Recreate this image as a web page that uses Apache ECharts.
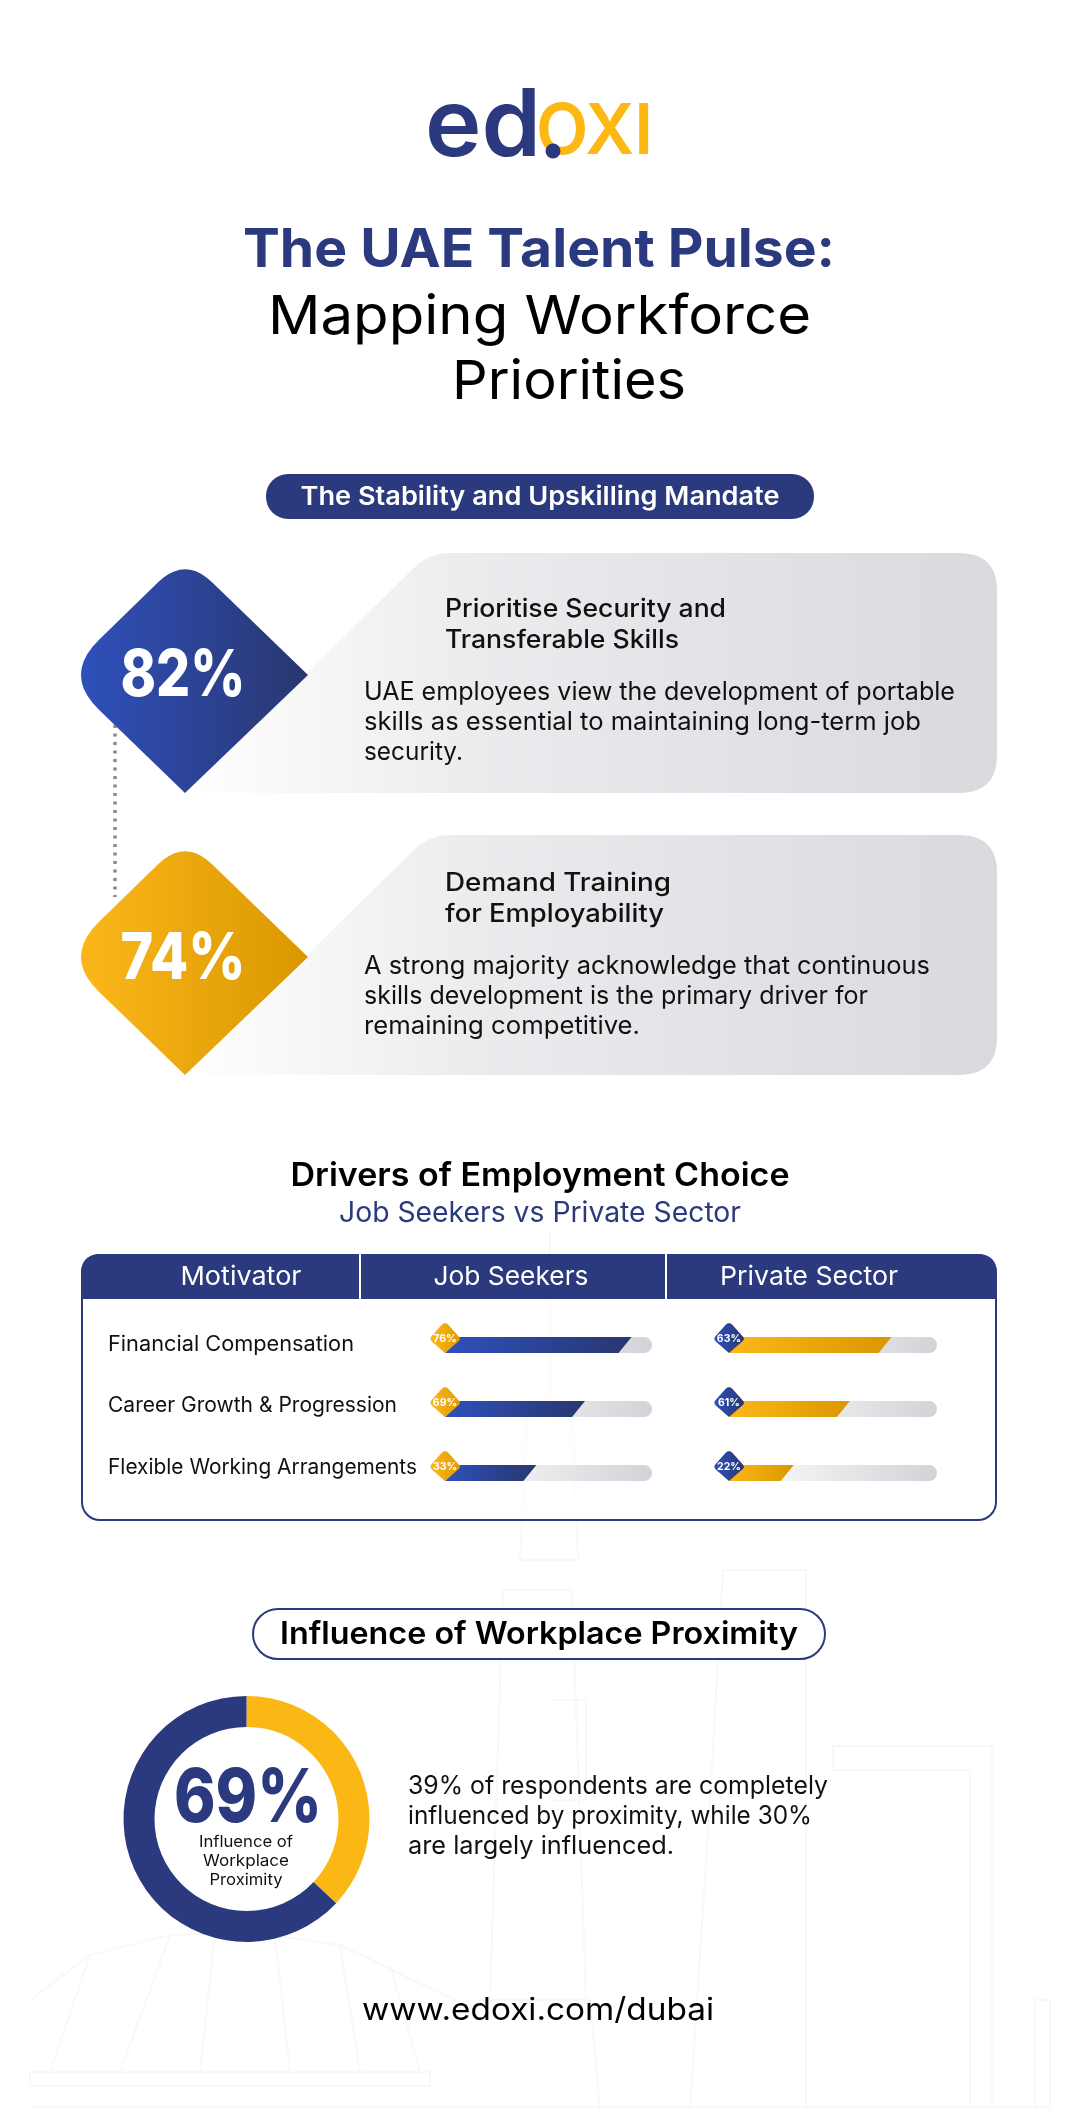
<!DOCTYPE html>
<html>
<head>
<meta charset="utf-8">
<title>The UAE Talent Pulse</title>
<script src="https://cdn.jsdelivr.net/npm/echarts@6/dist/echarts.min.js"></script>
<style>
    html, body { margin: 0; padding: 0; background: #fff; }
    #chart { width: 1080px; height: 2110px; }
</style>
</head>
<body>
<div id="chart"></div>
<script>
'use strict';
var statValues = ['82%', '74%'];
var statTitles = [['Prioritise Security and', 'Transferable Skills'], ['Demand Training', 'for Employability']];
var statBodies = [
    ['UAE employees view the development of portable', 'skills as essential to maintaining long-term job', 'security.'],
    ['A strong majority acknowledge that continuous', 'skills development is the primary driver for', 'remaining competitive.']
];

var motivators = ['Financial Compensation', 'Career Growth & Progression', 'Flexible Working Arrangements'];
var tableHeaders = ['Motivator', 'Job Seekers', 'Private Sector'];
// printed percentages
var jobSeekerLabels = ['76%', '69%', '33%'];
var privateLabels = ['63%', '61%', '22%'];
// the drawn bars in the picture do not follow the printed numbers, so the lengths are read off separately
var jobSeekerLengths = [87, 64.5, 41];
var privateLengths = [75, 55, 28];

// share of the ring as drawn, yellow then navy
var ringShares = [37, 63];
var ringCentre = '69%';
var ringCaption = ['Influence of', 'Workplace', 'Proximity'];
var ringText = ['39% of respondents are completely', 'influenced by proximity, while 30%', 'are largely influenced.'];

var NAVY = '#2b3a7e';
var YELLOW = '#fbb714';
var FONT = 'Inter';

var measureCtx = document.createElement('canvas').getContext('2d');

// text element, squeezed to the width measured in the picture when w is given
function label(text, x, y, size, weight, fill, align, w) {
    var font = weight + ' ' + size + 'px ' + FONT;
    var sx = 1;
    if (w) {
        measureCtx.font = font;
        sx = w / measureCtx.measureText(text).width;
    }
    return {
        type: 'text', x: x, y: y, scaleX: sx, silent: true,
        style: { text: text, font: font, fill: fill, align: align || 'center', verticalAlign: 'middle' }
    };
}

// points are [x, y, radius]; corners are sampled so the result fits a plain polygon
function roundPoly(pts) {
    var out = [];
    for (var i = 0; i < pts.length; i++) {
        var p = pts[i], a = pts[(i + pts.length - 1) % pts.length], b = pts[(i + 1) % pts.length];
        var r = p[2] || 0;
        if (!r) { out.push([p[0], p[1]]); continue; }
        var la = Math.hypot(a[0] - p[0], a[1] - p[1]), lb = Math.hypot(b[0] - p[0], b[1] - p[1]);
        var ax = p[0] + (a[0] - p[0]) / la * r, ay = p[1] + (a[1] - p[1]) / la * r;
        var bx = p[0] + (b[0] - p[0]) / lb * r, by = p[1] + (b[1] - p[1]) / lb * r;
        for (var t = 0; t <= 1.001; t += 0.1) {
            out.push([
                (1 - t) * (1 - t) * ax + 2 * t * (1 - t) * p[0] + t * t * bx,
                (1 - t) * (1 - t) * ay + 2 * t * (1 - t) * p[1] + t * t * by
            ]);
        }
    }
    return out;
}

function hGrad(from, to) {
    return { type: 'linear', x: 0, y: 0, x2: 1, y2: 0, colorStops: [{ offset: 0, color: from }, { offset: 1, color: to }] };
}

function poly(points, fill) {
    return { type: 'polygon', silent: true, shape: { points: points }, style: { fill: fill } };
}

function faint(points) {
    return { type: 'polyline', silent: true, shape: { points: points }, style: { fill: null, stroke: '#f8f8fa', lineWidth: 2 } };
}

var elements = [];

// faint skyline behind everything
[
    [[550, 1230], [550, 1400]],
    [[528, 1400], [572, 1400], [578, 1560], [520, 1560], [528, 1400]],
    [[503, 1590], [572, 1590], [586, 2000], [490, 2000], [503, 1590]],
    [[552, 1700], [586, 1700], [586, 1800], [552, 1800]],
    [[478, 2000], [590, 2000], [600, 2110]],
    [[723, 1570], [806, 1570], [806, 2110]],
    [[723, 1570], [710, 1800], [690, 2110]],
    [[833, 1746], [992, 1746], [992, 2107]],
    [[833, 1746], [833, 1770], [970, 1770], [970, 2107]],
    [[30, 2000], [90, 1955], [170, 1935], [250, 1932], [340, 1945], [455, 2000]],
    [[50, 2072], [90, 1955]], [[120, 2072], [170, 1935]], [[200, 2072], [215, 1933]],
    [[290, 2072], [275, 1935]], [[360, 2072], [340, 1945]], [[420, 2072], [390, 1965]],
    [[30, 2072], [430, 2072], [430, 2086], [30, 2086], [30, 2072]],
    [[30, 2107], [1050, 2107]],
    [[1035, 2110], [1035, 2000], [1050, 2000], [1050, 2110]]
].forEach(function (pts) { elements.push(faint(pts)); });

// logo
elements.push(label('OXI', 536, 133, 70, 600, '#fdb813', 'left', 117));
elements.push(label('ed', 425, 128, 94, 600, NAVY, 'left', 116));
elements.push({ type: 'circle', silent: true, shape: { cx: 553, cy: 151, r: 7.5 }, style: { fill: NAVY } });

// heading
elements.push(label('The UAE Talent Pulse:', 539, 251, 54, 700, NAVY, 'center', 592));
elements.push(label('Mapping Workforce', 539.5, 318, 54, 400, '#000', 'center', 543));
elements.push(label('Priorities', 569, 383, 54, 400, '#000', 'center', 234));

// first section pill
elements.push({ type: 'rect', silent: true, shape: { x: 266, y: 474, width: 548, height: 45, r: 22 }, style: { fill: NAVY } });
elements.push(label('The Stability and Upskilling Mandate', 540, 497, 26, 600, '#fff', 'center', 479));

// dotted connector between the two diamonds
elements.push({
    type: 'line', silent: true, shape: { x1: 115, y1: 725, x2: 115, y2: 897 },
    style: { stroke: '#8b8b8f', lineWidth: 3.5, lineDash: [3, 5.5] }
});

var diamondFills = [hGrad('#2f50bc', '#29376f'), hGrad('#fbb71a', '#da9700')];
var cardFill = {
    type: 'linear', x: 0, y: 0, x2: 1, y2: 0,
    colorStops: [{ offset: 0, color: '#ffffff' }, { offset: 0.35, color: '#ececef' }, { offset: 1, color: '#d9d9de' }]
};
statValues.forEach(function (val, i) {
    var dy = i * 282;
    var textDy = i * 274;
    // grey card running off the diamond's right edge
    elements.push(poly(roundPoly([
        [185, 793 + dy], [429, 553 + dy, 22], [997, 553 + dy, 38], [997, 793 + dy, 38]
    ]), cardFill));
    elements.push(poly(roundPoly([
        [185, 556 + dy, 38], [308, 675 + dy], [185, 793 + dy], [63, 675 + dy, 50]
    ]), diamondFills[i]));
    elements.push(label(val, 183, 677 + dy + i, 64, 800, '#fff', 'center', 125));
    statTitles[i].forEach(function (line, k) {
        elements.push(label(line, 445, 609 + textDy + k * 31, 25, 500, '#111', 'left', i === 0 ? (k === 0 ? 281 : 234) : (k === 0 ? 226 : 219)));
    });
    statBodies[i].forEach(function (line, k) {
        var widths = [[591, 557, 99], [566, 504, 276]];
        elements.push(label(line, 364, 692 + textDy + k * 30, 25, 400, '#111', 'left', widths[i][k]));
    });
});

// drivers table
elements.push(label('Drivers of Employment Choice', 540, 1176, 33, 600, '#000', 'center', 499));
elements.push(label('Job Seekers vs Private Sector', 540, 1214, 28, 400, NAVY, 'center', 402));
elements.push({
    type: 'rect', silent: true, shape: { x: 82, y: 1255, width: 914, height: 265, r: 18 },
    style: { fill: 'rgba(255,255,255,0.6)', stroke: NAVY, lineWidth: 2 }
});
elements.push(poly(roundPoly([[81, 1299], [81, 1254, 20], [997, 1254, 20], [997, 1299]]), NAVY));
[360, 666].forEach(function (x) {
    elements.push({ type: 'line', silent: true, shape: { x1: x, y1: 1254, x2: x, y2: 1299 }, style: { stroke: '#fff', lineWidth: 2 } });
});
[241, 511, 809].forEach(function (x, i) {
    elements.push(label(tableHeaders[i], x, 1277, 26, 400, '#fff', 'center', [121, 155, 178][i]));
});
[1345, 1406, 1468].forEach(function (y, i) {
    elements.push(label(motivators[i], 108, y, 21, 400, '#111', 'left', [246, 289, 309][i]));
});

// proximity section
elements.push({
    type: 'rect', silent: true, shape: { x: 253, y: 1609, width: 572, height: 50, r: 25 },
    style: { fill: '#fff', stroke: NAVY, lineWidth: 2 }
});
elements.push(label('Influence of Workplace Proximity', 539, 1635, 31, 600, '#000', 'center', 518));
elements.push(label(ringCentre, 248, 1800, 74, 800, NAVY, 'center', 148));
ringCaption.forEach(function (line, k) {
    elements.push(label(line, 246, 1842 + k * 19, 16, 400, '#111', 'center', [94, 86, 73][k]));
});
ringText.forEach(function (line, k) {
    elements.push(label(line, 408, 1786 + k * 30, 25, 400, '#111', 'left', [420, 404, 266][k]));
});
elements.push(label('www.edoxi.com/dubai', 538, 2011, 31, 400, '#000', 'center', 352));

// one track + slanted fill + corner diamond per row, positioned by the axes
function progressRow(barFill, badgeFill) {
    return function (params, api) {
        var row = api.value(1);
        var start = api.coord([0, row]);
        var end = api.coord([api.value(0), row]);
        var full = api.coord([100, row]);
        var x0 = start[0], cy = start[1], xe = end[0];
        var h = 8;
        return {
            type: 'group',
            children: [
                { type: 'rect', shape: { x: x0, y: cy - h, width: full[0] - x0, height: h * 2, r: h }, style: { fill: hGrad('#ffffff', '#d2d3d8') } },
                { type: 'polygon', shape: { points: [[x0, cy + h], [x0 + 14, cy - h], [xe + 6.5, cy - h], [xe - 6.5, cy + h]] }, style: { fill: barFill } },
                { type: 'polygon', shape: { points: roundPoly([[x0, cy - 24, 6], [x0 + 16, cy - 6, 3], [x0, cy + h], [x0 - 16, cy - 6, 4]]) }, style: { fill: badgeFill } },
                {
                    type: 'text', x: x0, y: cy - 6,
                    style: { text: api.value(2), font: '700 10.5px ' + FONT, fill: '#fff', align: 'center', verticalAlign: 'middle' }
                }
            ]
        };
    };
}

function rowData(lengths, labels) {
    return lengths.map(function (len, i) { return [len, i, labels[i]]; });
}

function hiddenX(gridIndex) {
    return { type: 'value', gridIndex: gridIndex, min: 0, max: 100, show: false };
}

function hiddenY(gridIndex) {
    return { type: 'category', gridIndex: gridIndex, inverse: true, data: motivators, show: false };
}

var chart = echarts.init(document.getElementById('chart'));
chart.setOption({
    animation: false,
    backgroundColor: '#fff',
    graphic: { elements: elements },
    grid: [
        { left: 445, width: 207, top: 1313, height: 192 },
        { left: 729, width: 208, top: 1313, height: 192 }
    ],
    xAxis: [hiddenX(0), hiddenX(1)],
    yAxis: [hiddenY(0), hiddenY(1)],
    series: [
        {
            name: 'Job Seekers', type: 'custom', xAxisIndex: 0, yAxisIndex: 0, silent: true,
            encode: { x: 0, y: 1 },
            renderItem: progressRow(hGrad('#2f50bc', '#29376f'), hGrad('#fbb71a', '#e09c05')),
            data: rowData(jobSeekerLengths, jobSeekerLabels)
        },
        {
            name: 'Private Sector', type: 'custom', xAxisIndex: 1, yAxisIndex: 1, silent: true,
            encode: { x: 0, y: 1 },
            renderItem: progressRow(hGrad('#fbb71a', '#da9700'), hGrad('#2f50bc', '#29376f')),
            data: rowData(privateLengths, privateLabels)
        },
        {
            name: 'Workplace proximity', type: 'pie', silent: true,
            center: [246.5, 1819], radius: [92, 123], startAngle: 90,
            label: { show: false }, labelLine: { show: false },
            data: [
                { value: ringShares[0], itemStyle: { color: YELLOW } },
                { value: ringShares[1], itemStyle: { color: NAVY } }
            ]
        }
    ]
});
</script>
</body>
</html>
